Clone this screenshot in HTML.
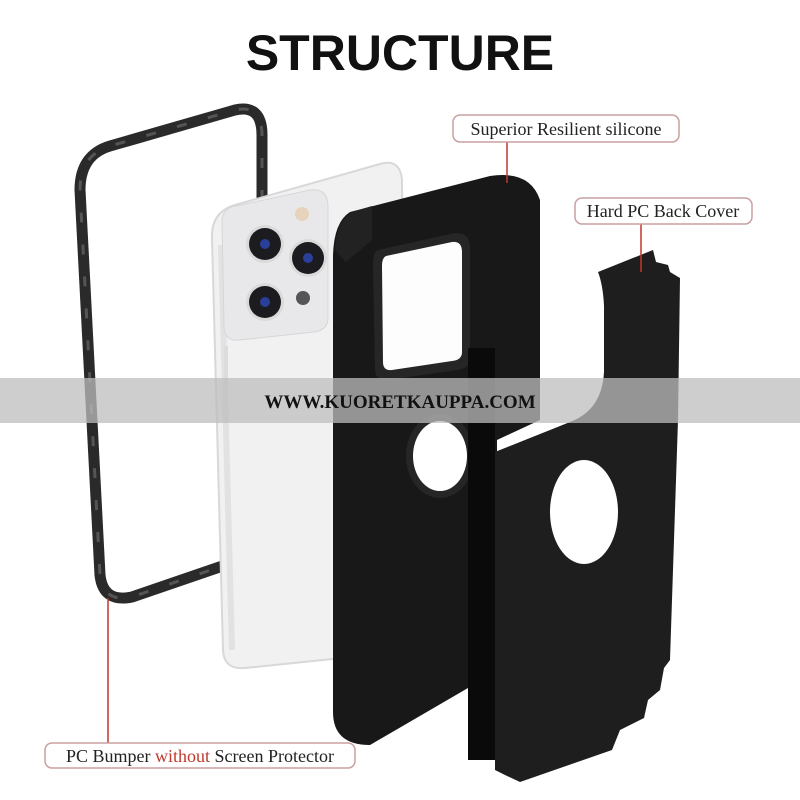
<!DOCTYPE html>
<html><head><meta charset="utf-8"><style>
html,body{margin:0;padding:0;background:#fff;}
svg{display:block}
</style></head><body>
<svg width="800" height="800" viewBox="0 0 800 800" xmlns="http://www.w3.org/2000/svg">
<rect width="800" height="800" fill="#fff"/>
<text x="400" y="70" text-anchor="middle" font-family="Liberation Sans, sans-serif" font-weight="bold" font-size="50" fill="#111">STRUCTURE</text>

<!-- bumper frame -->
<path d="M262,200 L262,135 Q262,104 235,110 L110,146 Q80,155 80,190 L100,575 Q103,603 132,597 L240,560" fill="none" stroke="#2a2a2a" stroke-width="11" stroke-linejoin="round"/>
<path d="M262,200 L262,135 Q262,104 235,110 L110,146 Q80,155 80,190 L100,575 Q103,603 132,597 L240,560" fill="none" stroke="#555" stroke-width="3" stroke-dasharray="10 22"/>

<!-- phone -->
<path d="M235,205 L380,164 Q400,158 402,180 L405,640 Q405,652 390,653 L245,668 Q224,670 223,650 L212,238 Q211,212 235,205 Z" fill="#f1f1f2" stroke="#d8d8da" stroke-width="2"/>
<path d="M221,245 L232,650" stroke="#e2e2e4" stroke-width="6"/>
<path d="M236,206 L310,190 Q328,188 328,206 L328,318 Q328,330 314,332 L240,340 Q224,342 224,326 L222,222 Q222,208 236,206 Z" fill="#e8e8ea" stroke="#d6d6d8"/>
<circle cx="302" cy="214" r="7" fill="#e7d3bb"/>
<circle cx="265" cy="244" r="19" fill="#dadada"/><circle cx="265" cy="244" r="16" fill="#1c1c20"/><circle cx="265" cy="244" r="5" fill="#2a3f9a"/>
<circle cx="308" cy="258" r="19" fill="#dadada"/><circle cx="308" cy="258" r="16" fill="#1c1c20"/><circle cx="308" cy="258" r="5" fill="#2a3f9a"/>
<circle cx="265" cy="302" r="19" fill="#dadada"/><circle cx="265" cy="302" r="16" fill="#1c1c20"/><circle cx="265" cy="302" r="5" fill="#2a3f9a"/>
<circle cx="303" cy="298" r="7" fill="#555"/>
<rect x="224" y="346" width="4" height="40" fill="#dcdcde"/>

<!-- silicone case -->
<path d="M350,212 L490,176 Q530,170 540,200 L540,420 L497,440 L497,680 L468,688 L370,745 Q333,745 333,712 L333,255 Q334,222 350,212 Z" fill="#181818"/>
<path d="M335,250 Q336,222 352,212 L372,206 L372,240 L346,262 Z" fill="#222"/>
<path d="M378,250 L455,233 Q470,232 470,248 L470,358 Q470,368 458,370 L388,380 Q375,382 375,368 L373,265 Q373,252 378,250 Z" fill="#262626"/>
<path d="M386,256 L452,242 Q462,241 462,252 L462,352 Q462,360 452,361 L392,370 Q383,371 383,362 L382,266 Q382,258 386,256 Z" fill="#fdfdfd"/>
<ellipse cx="440" cy="456" rx="34" ry="42" fill="#262626"/>
<ellipse cx="440" cy="456" rx="27" ry="35" fill="#fff"/>
<rect x="468" y="348" width="27" height="412" fill="#0a0a0a"/>

<!-- hard PC back -->
<path d="M598,272 L653,250 L656,262 L668,265 L670,272 L680,278 L678,420 L670,660 L664,668 L660,690 L648,700 L644,718 L620,730 L612,750 L520,782 L505,775 L495,770 L495,452 Q505,448 525,440 L570,422 Q602,410 604,372 L604,306 Q603,285 598,272 Z" fill="#1e1e1e"/>
<ellipse cx="584" cy="512" rx="34" ry="52" fill="#fff"/>

<!-- watermark band -->
<rect x="0" y="378" width="800" height="45" fill="#bdbdbd" opacity="0.75"/>
<text x="400" y="408" text-anchor="middle" font-family="Liberation Serif, serif" font-weight="bold" font-size="19" fill="#111">WWW.KUORETKAUPPA.COM</text>

<!-- labels -->
<line x1="507" y1="142" x2="507" y2="183" stroke="#c0392b" stroke-width="1.5"/>
<rect x="453" y="115" width="226" height="27" rx="7" fill="#fff" stroke="#c9a0a0" stroke-width="1.5"/>
<text x="566" y="135" text-anchor="middle" font-family="Liberation Serif, serif" font-size="18" fill="#222">Superior Resilient silicone</text>

<line x1="641" y1="224" x2="641" y2="272" stroke="#c0392b" stroke-width="1.5"/>
<rect x="575" y="198" width="177" height="26" rx="7" fill="#fff" stroke="#c9a0a0" stroke-width="1.5"/>
<text x="663" y="217" text-anchor="middle" font-family="Liberation Serif, serif" font-size="18" fill="#222">Hard PC Back Cover</text>

<line x1="108" y1="598" x2="108" y2="743" stroke="#c0392b" stroke-width="1.5"/>
<rect x="45" y="743" width="310" height="25" rx="7" fill="#fff" stroke="#c9a0a0" stroke-width="1.5"/>
<text x="200" y="762" text-anchor="middle" font-family="Liberation Serif, serif" font-size="18" fill="#222">PC Bumper <tspan fill="#c0392b">without</tspan> Screen Protector</text>
</svg>
</body></html>
